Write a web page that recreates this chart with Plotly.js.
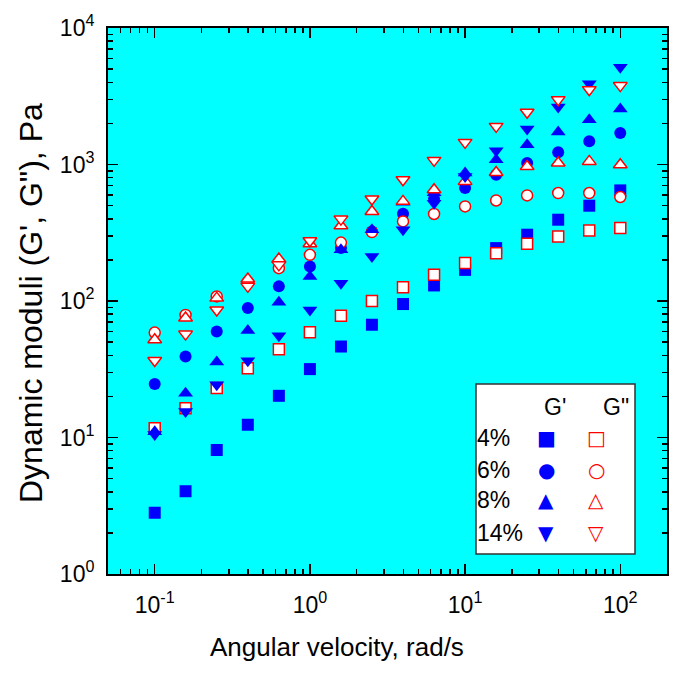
<!DOCTYPE html>
<html><head><meta charset="utf-8">
<script src="https://cdn.plot.ly/plotly-3.0.1.min.js"></script>
<style>html,body{margin:0;padding:0;background:#fff}#chart{width:675px;height:675px}</style>
</head><body><div id="chart"></div>
<script>
// Angular velocity, rad/s
const freq = [0.1,0.158,0.251,0.398,0.631,1,1.585,2.51,3.98,6.31,10,15.85,25.1,39.8,63.1,100];
// G' (storage) and G'' (loss) moduli, Pa
const gp4   = [2.81,4.04,8.1,12.4,20.2,31.7,46.4,67,95,130,169,244,306,394,499,646];
const gpp4  = [11.7,16.4,23,32.2,44.4,59,78,100,126,156,190,224,263,297,329,342];
const gp6   = [24.7,39.2,59.7,88.7,128,179,244,323,436,560,672,842,1024,1228,1478,1702];
const gpp6  = [58.7,79,108,138,174,218,268,320,383,434,493,545,594,618,618,578];
const gp8   = [11.0,21.1,35.7,60.8,98,151,237,333,530,620,866,1085,1397,1730,2130,2553];
const gpp8  = [52,75,105,145,203,263,356,453,537,654,752,874,968,1025,1054,997];
const gp14  = [10.5,15.5,24.3,36.5,55.6,86,135,212,333,520,818,1262,1820,2637,3911,5150];
const gpp14 = [36.6,57.2,86,128,184,276,398,559,774,1072,1452,1902,2411,2986,3534,3784];

const concLabels = ['4%','6%','8%','14%'];
const xTickVals = [0.1,1,10,100];
const xTickText = ['10<sup>-1</sup>','10<sup>0</sup>','10<sup>1</sup>','10<sup>2</sup>'];
const yTickVals = [1,10,100,1000,10000];
const yTickText = ['10<sup>0</sup>','10<sup>1</sup>','10<sup>2</sup>','10<sup>3</sup>','10<sup>4</sup>'];

const FONT = 'Liberation Sans, Arial, sans-serif';
const BLUE = '#0000ff', RED = '#ff0000';
const filledSym = ['square','circle','triangle-up','triangle-down'];
const openSym = ['square','circle','triangle-up','triangle-down'];
const gpSets = [gp4,gp6,gp8,gp14];
const gppSets = [gpp4,gpp6,gpp8,gpp14];
const sizes = [12,12,13,13];

const traces = [];
for (let i=0;i<4;i++){
  traces.push({x:freq,y:gpSets[i],type:'scatter',mode:'markers',name:"G' "+concLabels[i],
    marker:{symbol:filledSym[i],size:sizes[i],color:BLUE,line:{width:0}}});
  traces.push({x:freq,y:gppSets[i],type:'scatter',mode:'markers',name:'G" '+concLabels[i],
    marker:{symbol:openSym[i],size:sizes[i]-1,color:'#ffffff',line:{width:1.5,color:RED}}});
}

function minorVals(lo,hi){
  const v=[];
  for(let e=lo;e<=hi;e++){for(let m=2;m<=9;m++){v.push(m*Math.pow(10,e));}}
  return v;
}

const L=108,R=8,T=28,B=101,W=675,H=675;
const pw=W-L-R, ph=H-T-B;
const px=x=>(x-L)/pw, py=y=>(H-B-y)/ph;

const legRows=[438,470,500,533];
const annotations=[
  {text:'Angular velocity, rad/s',xref:'paper',yref:'paper',x:px(337),y:py(647),showarrow:false,
   font:{family:FONT,size:26,color:'#000'},xanchor:'center',yanchor:'middle'},
  {text:'Dynamic moduli (G\', G"), Pa',xref:'paper',yref:'paper',x:px(31),y:py(303),showarrow:false,
   textangle:-90,font:{family:FONT,size:32,color:'#000'},xanchor:'center',yanchor:'middle'},
  {text:"G'",xref:'paper',yref:'paper',x:px(555),y:py(407),xanchor:'center',yanchor:'middle',showarrow:false,font:{family:FONT,size:23,color:'#000'}},
  {text:'G"',xref:'paper',yref:'paper',x:px(616),y:py(407),xanchor:'center',yanchor:'middle',showarrow:false,font:{family:FONT,size:23,color:'#000'}}
];
const fGlyph=['■','●','▲','▼'], oGlyph=['□','○','△','▽'];
for(let i=0;i<4;i++){
  annotations.push({text:concLabels[i],xref:'paper',yref:'paper',x:px(475),y:py(legRows[i]),xanchor:'left',yanchor:'middle',
    showarrow:false,font:{family:FONT,size:23,color:'#000'}});
  annotations.push({text:fGlyph[i],xref:'paper',yref:'paper',x:px(546),y:py(legRows[i]),xanchor:'center',yanchor:'middle',showarrow:false,
    font:{family:'DejaVu Sans',size:20,color:BLUE}});
  annotations.push({text:oGlyph[i],xref:'paper',yref:'paper',x:px(596),y:py(legRows[i]),xanchor:'center',yanchor:'middle',showarrow:false,
    font:{family:'DejaVu Sans',size:20,color:RED}});
}

const axisCommon={type:'log',showgrid:false,zeroline:false,showline:true,linecolor:'#000',linewidth:2,
  mirror:'ticks',ticks:'inside',ticklen:10,tickwidth:1.5,tickcolor:'#000',
  tickfont:{family:FONT,size:23,color:'#000'}};

const layout={
  width:W,height:H,margin:{l:L,r:R,t:T,b:B},
  paper_bgcolor:'#ffffff',plot_bgcolor:'#00ffff',showlegend:false,
  xaxis:Object.assign({},axisCommon,{range:[Math.log10(0.05),Math.log10(200)],tickmode:'array',
    tickvals:xTickVals,ticktext:xTickText,ticklabelstandoff:9,
    minor:{ticks:'inside',ticklen:5,tickwidth:1.5,tickcolor:'#000',tickmode:'array',tickvals:minorVals(-2,2),showgrid:false}}),
  yaxis:Object.assign({},axisCommon,{range:[0,4],tickmode:'array',tickvals:yTickVals,ticktext:yTickText,
    ticklabelstandoff:7,
    minor:{ticks:'inside',ticklen:5,tickwidth:1.5,tickcolor:'#000',tickmode:'array',tickvals:minorVals(0,3),showgrid:false}}),
  shapes:[{type:'rect',xref:'paper',yref:'paper',x0:px(476),x1:px(635),y0:py(554),y1:py(384),
    fillcolor:'#ffffff',line:{color:'#333',width:1.5},layer:'above'}],
  annotations:annotations
};
Plotly.newPlot('chart',traces,layout,{staticPlot:true});
</script></body></html>
